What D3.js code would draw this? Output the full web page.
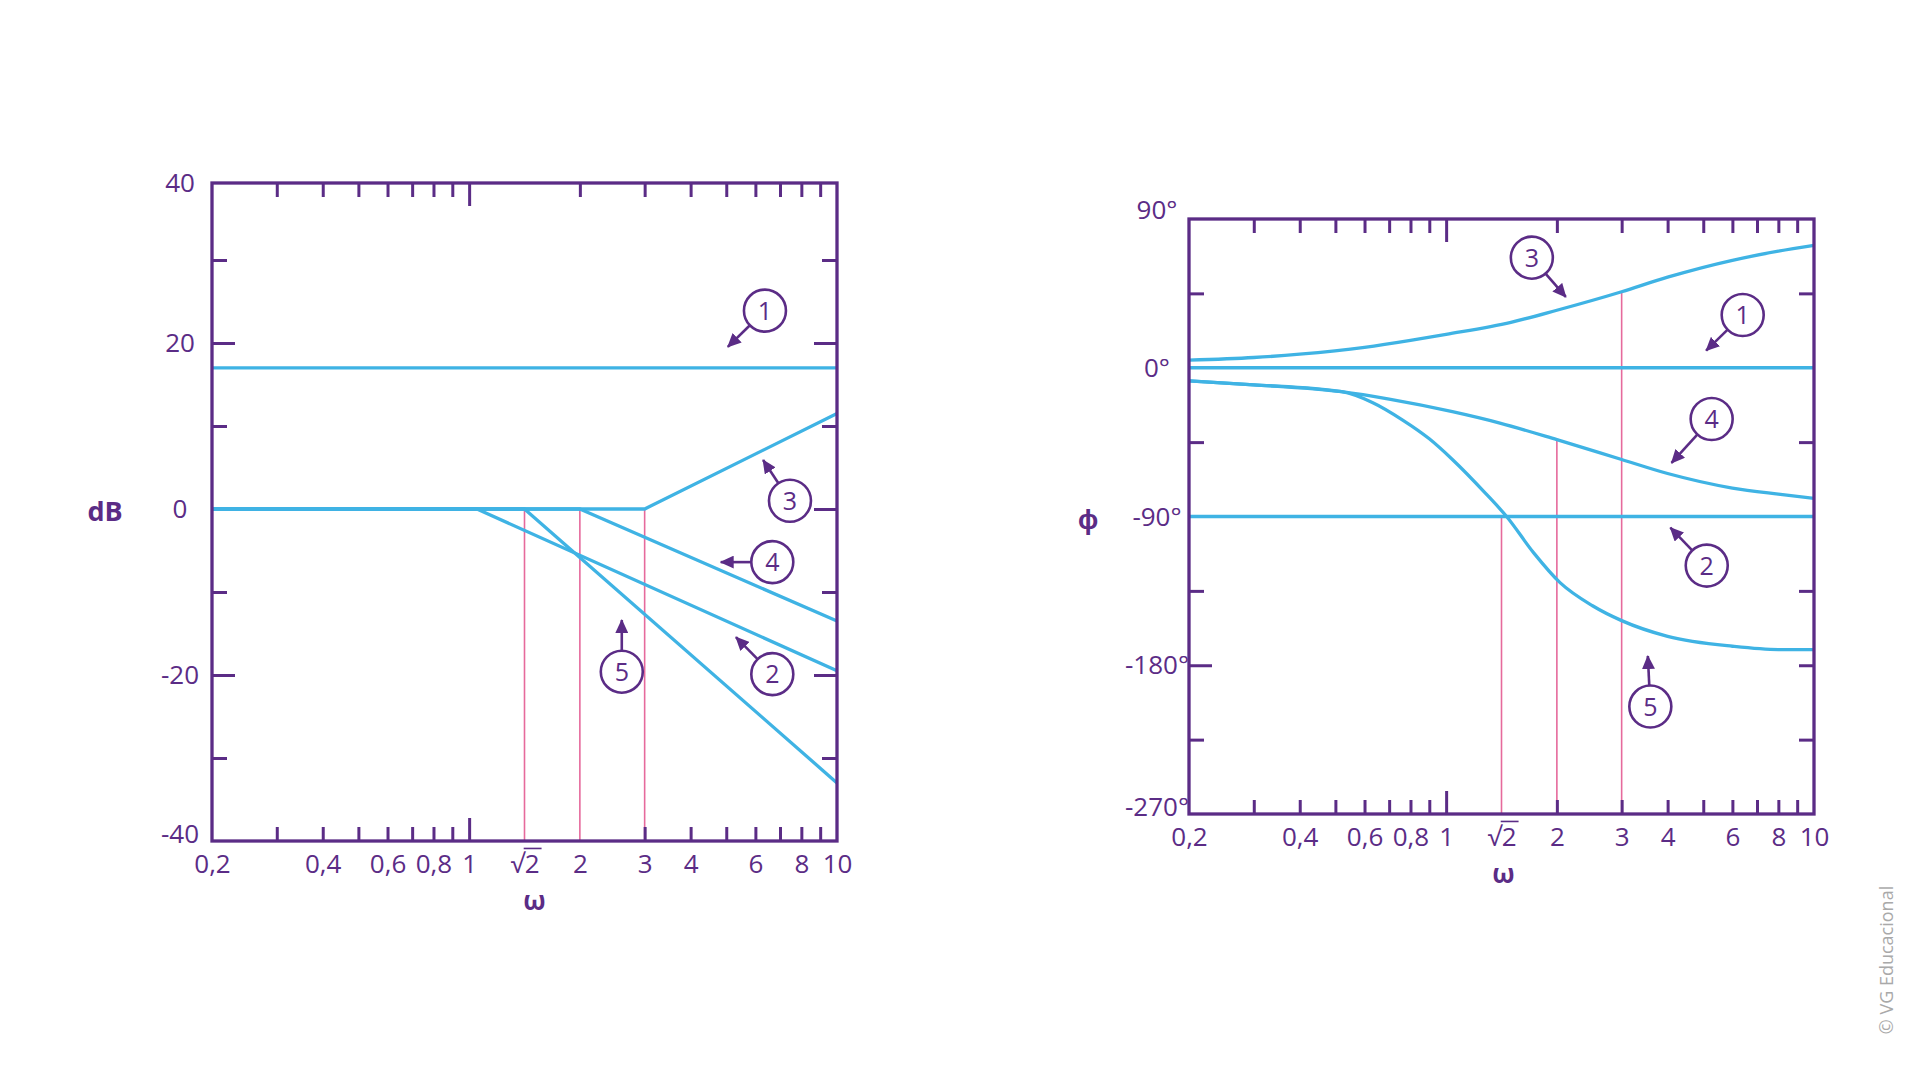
<!DOCTYPE html>
<html>
<head>
<meta charset="utf-8">
<title>Bode</title>
<script src="https://cdn.jsdelivr.net/npm/d3@7"></script>
<style>
body { margin: 0; background: #fff; }
svg text { font-family: "Open Sans", sans-serif; font-size: 26px; fill: #5b2c86; }
</style>
</head>
<body>
<svg id="chart" width="1920" height="1080"></svg>
<script>
// ---- data ----
const omegaMinor = [0.3, 0.4, 0.5, 0.6, 0.7, 0.8, 0.9, 2, 3, 4, 5, 6, 7, 8, 9];
const omegaMajor = [1];
const omegaLabels = [0.2, 0.4, 0.6, 0.8, 1, Math.SQRT2, 2, 3, 4, 6, 8, 10];
const guideOmega = [Math.SQRT2, 2, 3];

const dbLabels = [40, 20, 0, -20, -40];
const dbMinor = [30, 10, -10, -30];
const dbMajor = [20, -20];
const dbRightMinor = [30, 10, -10, -30];
const dbRightMajor = [20, 0, -20];
const guideDbTop = [0, 0, 0];

const phaseLabels = [90, 0, -90, -180, -270];
const phaseMinor = [45, -45, -135, -225];
const phaseMajor = [-180];
const phaseRight = [45, -45, -135, -180, -225];
const guidePhaseTop = [-90, -43.5, 46];

// magnitude asymptotes (w, dB)
const magW1 = [0.2, 10],        magDb1 = [17, 17];
const magW2 = [0.2, 1.05, 10],  magDb2 = [0, 0, -19.5];
const magW3 = [0.2, 3, 10],     magDb3 = [0, 0, 11.5];
const magW4 = [0.2, 2, 10],     magDb4 = [0, 0, -13.5];
const magW5 = [0.2, 1.414, 10], magDb5 = [0, 0, -33];

// phase curves (w, degrees)
const phW1 = [0.2, 10], phDeg1 = [0, 0];
const phW2 = [0.2, 10], phDeg2 = [-90, -90];
const phW3 = [0.2, 0.3, 0.4, 0.6, 0.8, 1, 1.5, 2, 3, 4, 6, 8, 10];
const phDeg3 = [4.6, 6.2, 8.2, 12.3, 16.5, 20.2, 27.5, 34.8, 46, 54.8, 65, 70.5, 74];
const phW4 = [0.2, 0.3, 0.52, 0.7, 1.04, 1.4, 2, 3, 4, 6, 8, 10];
const phDeg4 = [-8, -10.3, -14.5, -19, -26.6, -33.5, -43.5, -55.5, -64, -72.8, -76.5, -79];
const phW5 = [0.2, 0.3, 0.52, 0.63, 0.76, 0.9, 1.04, 1.28, 1.46, 1.73, 2.04, 2.5, 3, 4, 6, 8, 10];
const phDeg5 = [-8, -10.3, -14.5, -21, -31.5, -43, -55.5, -76, -90, -112, -130, -144, -153, -162.5, -168.5, -170.5, -170.5];

// callouts: number, circle centre and arrow tip in data units
const magCallNum = [1, 3, 4, 2, 5];
const magCallCenter = [[6.37, 23.9], [7.45, 1.0], [6.67, -6.4], [6.67, -19.9], [2.6, -19.6]];
const magCallTip = [[4.96, 19.2], [6.21, 6.3], [4.71, -6.4], [5.22, -15.1], [2.6, -12.9]];
const phCallNum = [3, 1, 4, 2, 5];
const phCallCenter = [[1.71, 66.6], [6.4, 31.9], [5.27, -31], [5.11, -119.7], [3.59, -205]];
const phCallTip = [[2.15, 41], [5.0, 8.7], [4.03, -59.4], [4.0, -95], [3.53, -172]];

const purple = "#5b2c86", blue = "#3fb3e4", pink = "#e66a9c";

const svg = d3.select("#chart");

svg.append("defs").append("marker")
    .attr("id", "head")
    .attr("viewBox", "0 0 14 13")
    .attr("markerUnits", "userSpaceOnUse")
    .attr("markerWidth", 14).attr("markerHeight", 13)
    .attr("refX", 13).attr("refY", 6.5)
    .attr("orient", "auto")
  .append("path")
    .attr("d", "M0,0 L14,6.5 L0,13 Z")
    .attr("fill", purple);

const fmtW = v => v === Math.SQRT2 ? "√2" : String(v).replace(".", ",");

function drawPanel(x, y, o) {
    const g = svg.append("g");
    const x0 = x.range()[0], x1 = x.range()[1];
    const yTop = y.range()[y.range().length - 1], yBot = y.range()[0];

    // pink guides
    g.selectAll(".guide").data(guideOmega).enter().append("line")
        .attr("x1", d => x(d)).attr("x2", d => x(d))
        .attr("y1", (d, i) => y(o.guideTop[i])).attr("y2", yBot)
        .attr("stroke", pink).attr("stroke-width", 1.6);

    // curves
    const line = d3.line().x(d => x(d[0])).y(d => y(d[1])).curve(o.curve);
    o.curves.forEach(c => {
        g.append("path")
            .datum(d3.zip(c[0], c[1]))
            .attr("d", line)
            .attr("fill", "none")
            .attr("stroke", blue)
            .attr("stroke-width", 3.3);
    });

    // ticks
    const tick = (axis, tf) => g.append("g").attr("transform", tf)
        .call(axis.tickFormat("").tickSizeOuter(0))
        .call(a => a.select(".domain").remove())
        .call(a => a.selectAll("line").attr("stroke", purple).attr("stroke-width", 3));
    const bMinor = o.bottomSkip ? omegaMinor.filter(v => v !== o.bottomSkip) : omegaMinor;
    tick(d3.axisBottom(x).tickValues(bMinor).tickSize(-14), `translate(0,${yBot})`);
    tick(d3.axisBottom(x).tickValues(omegaMajor).tickSize(-23), `translate(0,${yBot})`);
    tick(d3.axisTop(x).tickValues(omegaMinor).tickSize(-14), `translate(0,${yTop})`);
    tick(d3.axisTop(x).tickValues(omegaMajor).tickSize(-23), `translate(0,${yTop})`);
    tick(d3.axisLeft(y).tickValues(o.leftMinor).tickSize(-15), `translate(${x0},0)`);
    tick(d3.axisLeft(y).tickValues(o.leftMajor).tickSize(-23), `translate(${x0},0)`);
    tick(d3.axisRight(y).tickValues(o.rightMinor).tickSize(-15), `translate(${x1},0)`);
    tick(d3.axisRight(y).tickValues(o.rightMajor).tickSize(-23), `translate(${x1},0)`);

    // frame
    g.append("rect")
        .attr("x", x0).attr("y", yTop)
        .attr("width", x1 - x0).attr("height", yBot - yTop)
        .attr("fill", "none").attr("stroke", purple).attr("stroke-width", 3.3);

    // x labels
    const xl = g.append("g").attr("transform", `translate(0,${yBot})`)
        .call(d3.axisBottom(x).tickValues(omegaLabels).tickSize(0).tickPadding(14).tickFormat(fmtW))
        .call(a => a.select(".domain").remove())
        .attr("font-size", null).attr("font-family", null);
    xl.selectAll("text").filter(d => d === Math.SQRT2).each(function () {
        const t = this;
        const s = t.getStartPositionOfChar(1), e = t.getEndPositionOfChar(1);
        const bb = t.getBBox();
        d3.select(t.parentNode).append("line")
            .attr("x1", s.x - 1).attr("x2", e.x + 2)
            .attr("y1", bb.y + 3).attr("y2", bb.y + 3)
            .attr("stroke", purple).attr("stroke-width", 1.6);
    });

    // y labels
    g.selectAll(".ylab").data(o.labels).enter().append("text")
        .attr("x", x0 - 32)
        .attr("y", d => y(d) - (d === o.labels[o.labels.length - 1] ? 7 : 0) - (d === o.labels[0] && o.nudgeTop ? 9 : 0))
        .attr("dy", "0.35em")
        .attr("text-anchor", "middle")
        .text(o.labelFmt);

    // axis titles
    g.append("text").attr("x", o.titleX).attr("y", (yTop + yBot) / 2 + o.titleDy)
        .attr("dy", "0.35em").attr("text-anchor", "middle")
        .style("font-weight", "bold").style("font-size", "27px").text(o.title);
    g.append("text").attr("x", (x0 + x1) / 2 + o.omegaDx).attr("y", yBot + 60)
        .attr("dy", "0.35em").attr("text-anchor", "middle")
        .style("font-weight", "bold").style("font-size", "26px").text("ω");

    // callouts
    const r = 21;
    o.callNum.forEach((n, i) => {
        const cx = x(o.callCenter[i][0]), cy = y(o.callCenter[i][1]);
        const tx = x(o.callTip[i][0]), ty = y(o.callTip[i][1]);
        const a = Math.atan2(ty - cy, tx - cx);
        g.append("line")
            .attr("x1", cx + r * Math.cos(a)).attr("y1", cy + r * Math.sin(a))
            .attr("x2", tx - 4 * Math.cos(a)).attr("y2", ty - 4 * Math.sin(a))
            .attr("stroke", purple).attr("stroke-width", 2.6)
            .attr("marker-end", "url(#head)");
        g.append("circle").attr("cx", cx).attr("cy", cy).attr("r", r)
            .attr("fill", "#fff").attr("stroke", purple).attr("stroke-width", 2.6);
        g.append("text").attr("x", cx).attr("y", cy).attr("dy", "0.36em")
            .attr("text-anchor", "middle").style("font-size", "25px").text(n);
    });
}

// magnitude panel
const xMag = d3.scaleLog().domain([0.2, 10]).range([212, 837]);
const yMag = d3.scaleLinear().domain([-40, 30, 40]).range([841, 260, 183]);
drawPanel(xMag, yMag, {
    guideTop: guideDbTop,
    curve: d3.curveLinear,
    curves: [[magW1, magDb1], [magW2, magDb2], [magW3, magDb3], [magW4, magDb4], [magW5, magDb5]],
    bottomSkip: 2,
    leftMinor: dbMinor, leftMajor: dbMajor,
    rightMinor: dbRightMinor, rightMajor: dbRightMajor,
    labels: dbLabels, labelFmt: d => d, nudgeTop: false,
    title: "dB", titleX: 105, titleDy: 0,
    omegaDx: 10,
    callNum: magCallNum, callCenter: magCallCenter, callTip: magCallTip
});

// phase panel
const xPh = d3.scaleLog().domain([0.2, 10]).range([1189, 1814]);
const yPh = d3.scaleLinear().domain([-270, 90]).range([814, 219]);
drawPanel(xPh, yPh, {
    guideTop: guidePhaseTop,
    curve: d3.curveMonotoneX,
    curves: [[phW1, phDeg1], [phW2, phDeg2], [phW3, phDeg3], [phW4, phDeg4], [phW5, phDeg5]],
    bottomSkip: null,
    leftMinor: phaseMinor, leftMajor: phaseMajor,
    rightMinor: phaseRight, rightMajor: [],
    labels: phaseLabels, labelFmt: d => d + "°", nudgeTop: true,
    title: "ϕ", titleX: 1088, titleDy: 3,
    omegaDx: 2,
    callNum: phCallNum, callCenter: phCallCenter, callTip: phCallTip
});

// credit
svg.append("text")
    .attr("transform", "translate(1893,960) rotate(-90)")
    .attr("text-anchor", "middle")
    .style("font-size", "18px").style("fill", "#a9a9a9")
    .text("© VG Educacional");
</script>
</body>
</html>
